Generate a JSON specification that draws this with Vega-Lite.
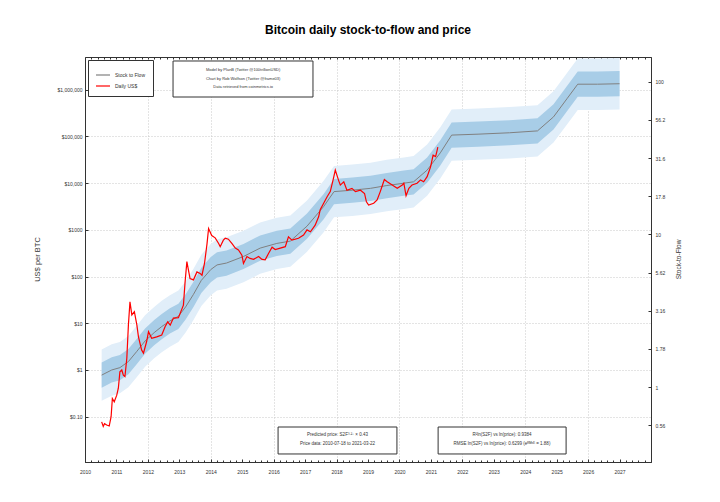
{
  "$schema": "https://vega.github.io/schema/vega-lite/v6.json",
  "width": 566,
  "height": 405,
  "autosize": {"type": "none"},
  "padding": {"left": 85, "top": 57, "right": 69, "bottom": 40},
  "background": "white",
  "title": {"text": "Bitcoin daily stock-to-flow and price", "font": "Liberation Sans", "fontSize": 12, "fontWeight": "bold", "color": "#000", "offset": 20, "anchor": "middle"},
  "config": {
    "view": {"stroke": "#333", "strokeWidth": 1},
    "font": "Liberation Sans",
    "axis": {"labelFont": "Liberation Sans", "titleFont": "Liberation Sans", "labelColor": "#333", "titleColor": "#333", "domainColor": "#333", "tickColor": "#333", "titleFontWeight": "normal", "labelOverlap": false, "labelFlush": false},
    "legend": {"labelFont": "Liberation Sans"}
  },
  "datasets": {
    "model": [
      {"year": 2010.53, "m": 0.776, "lo2": 0.2188, "lo1": 0.4169, "hi1": 1.445, "hi2": 2.754},
      {"year": 2010.85, "m": 1.0, "lo2": 0.2818, "lo1": 0.537, "hi1": 1.862, "hi2": 3.548},
      {"year": 2011.11, "m": 1.122, "lo2": 0.3162, "lo1": 0.6026, "hi1": 2.089, "hi2": 3.981},
      {"year": 2011.38, "m": 1.514, "lo2": 0.4266, "lo1": 0.8128, "hi1": 2.818, "hi2": 5.37},
      {"year": 2011.65, "m": 2.512, "lo2": 0.7079, "lo1": 1.349, "hi1": 4.677, "hi2": 8.913},
      {"year": 2011.91, "m": 4.169, "lo2": 1.175, "lo1": 2.239, "hi1": 7.762, "hi2": 14.79},
      {"year": 2012.2, "m": 6.31, "lo2": 1.778, "lo1": 3.388, "hi1": 11.75, "hi2": 22.39},
      {"year": 2012.44, "m": 8.511, "lo2": 2.399, "lo1": 4.571, "hi1": 15.85, "hi2": 30.2},
      {"year": 2012.7, "m": 11.22, "lo2": 3.162, "lo1": 6.026, "hi1": 20.89, "hi2": 39.81},
      {"year": 2012.97, "m": 14.13, "lo2": 3.981, "lo1": 7.586, "hi1": 26.3, "hi2": 50.12},
      {"year": 2013.2, "m": 22.39, "lo2": 6.31, "lo1": 12.02, "hi1": 41.69, "hi2": 79.43},
      {"year": 2013.45, "m": 41.69, "lo2": 11.75, "lo1": 22.39, "hi1": 77.62, "hi2": 147.9},
      {"year": 2013.7, "m": 83.18, "lo2": 23.44, "lo1": 44.67, "hi1": 154.9, "hi2": 295.1},
      {"year": 2014.0, "m": 141.3, "lo2": 39.81, "lo1": 75.86, "hi1": 263, "hi2": 501.2},
      {"year": 2014.2, "m": 177.8, "lo2": 50.12, "lo1": 95.5, "hi1": 331.1, "hi2": 631},
      {"year": 2014.5, "m": 195, "lo2": 54.95, "lo1": 104.7, "hi1": 363.1, "hi2": 691.8},
      {"year": 2015.04, "m": 269.2, "lo2": 75.86, "lo1": 144.5, "hi1": 501.2, "hi2": 955},
      {"year": 2015.57, "m": 407.4, "lo2": 114.8, "lo1": 218.8, "hi1": 758.6, "hi2": 1445},
      {"year": 2016.1, "m": 512.9, "lo2": 144.5, "lo1": 275.4, "hi1": 955, "hi2": 1820},
      {"year": 2016.53, "m": 575.4, "lo2": 162.2, "lo1": 309, "hi1": 1072, "hi2": 2042},
      {"year": 2017.06, "m": 1202, "lo2": 338.8, "lo1": 645.7, "hi1": 2239, "hi2": 4266},
      {"year": 2017.59, "m": 3162, "lo2": 891.3, "lo1": 1698, "hi1": 5888, "hi2": 11220},
      {"year": 2017.92, "m": 6607, "lo2": 1862, "lo1": 3548, "hi1": 12300, "hi2": 23440},
      {"year": 2018.5, "m": 7079, "lo2": 1995, "lo1": 3802, "hi1": 13180, "hi2": 25120},
      {"year": 2019.08, "m": 7762, "lo2": 2188, "lo1": 4169, "hi1": 14450, "hi2": 27540},
      {"year": 2019.6, "m": 8913, "lo2": 2512, "lo1": 4786, "hi1": 16600, "hi2": 31620},
      {"year": 2020.14, "m": 10000, "lo2": 2818, "lo1": 5370, "hi1": 18620, "hi2": 35480},
      {"year": 2020.45, "m": 10720, "lo2": 3020, "lo1": 5754, "hi1": 19950, "hi2": 38020},
      {"year": 2020.88, "m": 19050, "lo2": 5370, "lo1": 10230, "hi1": 35480, "hi2": 67610},
      {"year": 2021.3, "m": 44670, "lo2": 12590, "lo1": 23990, "hi1": 83180, "hi2": 158500},
      {"year": 2021.66, "m": 107200, "lo2": 30200, "lo1": 57540, "hi1": 199500, "hi2": 380200},
      {"year": 2022.5, "m": 112200, "lo2": 31620, "lo1": 60260, "hi1": 208900, "hi2": 398100},
      {"year": 2023.5, "m": 120200, "lo2": 33880, "lo1": 64570, "hi1": 223900, "hi2": 426600},
      {"year": 2024.39, "m": 131800, "lo2": 37150, "lo1": 70790, "hi1": 245500, "hi2": 467700},
      {"year": 2024.9, "m": 263000, "lo2": 74130, "lo1": 141300, "hi1": 489800, "hi2": 933300},
      {"year": 2025.34, "m": 660700, "lo2": 186200, "lo1": 354800, "hi1": 1230000, "hi2": 2344000},
      {"year": 2025.67, "m": 1318000, "lo2": 371500, "lo1": 707900, "hi1": 2455000, "hi2": 4677000},
      {"year": 2026.3, "m": 1318000, "lo2": 371500, "lo1": 707900, "hi1": 2455000, "hi2": 4677000},
      {"year": 2027.0, "m": 1349000, "lo2": 380200, "lo1": 724400, "hi1": 2512000, "hi2": 4786000}
    ],
    "price": [
      {"year": 2010.53, "price": 0.0776},
      {"year": 2010.58, "price": 0.0617},
      {"year": 2010.62, "price": 0.0708},
      {"year": 2010.69, "price": 0.0661},
      {"year": 2010.77, "price": 0.0631},
      {"year": 2010.83, "price": 0.1},
      {"year": 2010.87, "price": 0.2455},
      {"year": 2010.93, "price": 0.2089},
      {"year": 2011.01, "price": 0.2884},
      {"year": 2011.06, "price": 0.4074},
      {"year": 2011.11, "price": 0.912},
      {"year": 2011.17, "price": 1.0},
      {"year": 2011.22, "price": 0.776},
      {"year": 2011.27, "price": 0.724},
      {"year": 2011.33, "price": 1.778},
      {"year": 2011.38, "price": 9.12},
      {"year": 2011.43, "price": 28.8},
      {"year": 2011.49, "price": 15.1},
      {"year": 2011.57, "price": 17.8},
      {"year": 2011.65, "price": 9.12},
      {"year": 2011.7, "price": 5.13},
      {"year": 2011.8, "price": 2.69},
      {"year": 2011.86, "price": 2.29},
      {"year": 2011.96, "price": 4.07},
      {"year": 2012.02, "price": 6.61},
      {"year": 2012.12, "price": 4.79},
      {"year": 2012.28, "price": 5.13},
      {"year": 2012.44, "price": 5.62},
      {"year": 2012.55, "price": 8.51},
      {"year": 2012.63, "price": 10.7},
      {"year": 2012.71, "price": 9.12},
      {"year": 2012.81, "price": 12.9},
      {"year": 2012.97, "price": 13.2},
      {"year": 2013.13, "price": 24.5},
      {"year": 2013.18, "price": 72.4},
      {"year": 2013.24, "price": 209},
      {"year": 2013.29, "price": 138},
      {"year": 2013.34, "price": 91.2},
      {"year": 2013.45, "price": 85.1},
      {"year": 2013.56, "price": 126},
      {"year": 2013.66, "price": 117},
      {"year": 2013.72, "price": 107},
      {"year": 2013.8, "price": 191},
      {"year": 2013.88, "price": 501},
      {"year": 2013.93, "price": 1072},
      {"year": 2014.03, "price": 759},
      {"year": 2014.14, "price": 676},
      {"year": 2014.25, "price": 513},
      {"year": 2014.3, "price": 437},
      {"year": 2014.4, "price": 603},
      {"year": 2014.46, "price": 661},
      {"year": 2014.56, "price": 631},
      {"year": 2014.67, "price": 513},
      {"year": 2014.78, "price": 407},
      {"year": 2014.88, "price": 372},
      {"year": 2014.99, "price": 288},
      {"year": 2015.04, "price": 191},
      {"year": 2015.15, "price": 269},
      {"year": 2015.25, "price": 245},
      {"year": 2015.36, "price": 234},
      {"year": 2015.52, "price": 269},
      {"year": 2015.63, "price": 234},
      {"year": 2015.73, "price": 229},
      {"year": 2015.84, "price": 316},
      {"year": 2015.95, "price": 427},
      {"year": 2016.05, "price": 380},
      {"year": 2016.21, "price": 407},
      {"year": 2016.37, "price": 437},
      {"year": 2016.47, "price": 708},
      {"year": 2016.58, "price": 603},
      {"year": 2016.79, "price": 661},
      {"year": 2016.95, "price": 776},
      {"year": 2017.06, "price": 1000},
      {"year": 2017.17, "price": 912},
      {"year": 2017.32, "price": 1259},
      {"year": 2017.43, "price": 1905},
      {"year": 2017.48, "price": 2692},
      {"year": 2017.59, "price": 3715},
      {"year": 2017.7, "price": 5129},
      {"year": 2017.8, "price": 6607},
      {"year": 2017.89, "price": 11750},
      {"year": 2017.96, "price": 19050},
      {"year": 2018.07, "price": 11220},
      {"year": 2018.12, "price": 9120},
      {"year": 2018.23, "price": 10720},
      {"year": 2018.33, "price": 7079},
      {"year": 2018.49, "price": 7762},
      {"year": 2018.6, "price": 6607},
      {"year": 2018.76, "price": 7079},
      {"year": 2018.89, "price": 6026},
      {"year": 2018.95, "price": 3981},
      {"year": 2019.02, "price": 3388},
      {"year": 2019.18, "price": 3715},
      {"year": 2019.29, "price": 4365},
      {"year": 2019.39, "price": 6607},
      {"year": 2019.48, "price": 10000},
      {"year": 2019.52, "price": 12020},
      {"year": 2019.61, "price": 10720},
      {"year": 2019.77, "price": 9120},
      {"year": 2019.93, "price": 7762},
      {"year": 2020.09, "price": 9120},
      {"year": 2020.14, "price": 10000},
      {"year": 2020.21, "price": 5370},
      {"year": 2020.3, "price": 7762},
      {"year": 2020.4, "price": 9120},
      {"year": 2020.56, "price": 10000},
      {"year": 2020.67, "price": 11750},
      {"year": 2020.77, "price": 10720},
      {"year": 2020.88, "price": 13800},
      {"year": 2020.99, "price": 22390},
      {"year": 2021.07, "price": 39810},
      {"year": 2021.15, "price": 37150},
      {"year": 2021.2, "price": 51290},
      {"year": 2021.22, "price": 58880}
    ]
  },
  "layer": [
    {
      "layer": [
        {
          "data": {"name": "model"},
          "mark": {"type": "area", "color": "#e1eef9", "clip": true},
          "encoding": {
            "x": {"field": "year", "type": "quantitative", "scale": {"domain": [2010, 2028], "nice": false, "zero": false},
              "axis": {"values": [2010, 2011, 2012, 2013, 2014, 2015, 2016, 2017, 2018, 2019, 2020, 2021, 2022, 2023, 2024, 2025, 2026, 2027], "labels": false, "ticks": false, "domain": false, "grid": true, "gridDash": [1, 2], "gridColor": "#c8c8c8", "title": null}},
            "y": {"field": "lo2", "type": "quantitative", "scale": {"type": "log", "domain": [0.0107, 5040000], "nice": false},
              "axis": {"values": [0.1, 1, 10, 100, 1000, 10000, 100000, 1000000], "labelExpr": "datum.value < 1 ? '$0.10' : (datum.value == 1000 ? '$1000' : '$' + format(datum.value, ','))", "labelFontSize": 5, "labelOverlap": false, "tickSize": -3, "labelPadding": 6, "grid": true, "gridDash": [1, 2], "gridColor": "#c8c8c8", "title": "US$ per BTC", "titleFontSize": 7.5, "titleAngle": -90, "titleX": -48, "titleY": 202, "titleAlign": "center", "titleBaseline": "middle"}},
            "y2": {"field": "hi2"}
          }
        },
        {
          "data": {"name": "model"},
          "mark": {"type": "area", "color": "#a8cde7", "clip": true},
          "encoding": {
            "x": {"field": "year", "type": "quantitative"},
            "y": {"field": "lo1", "type": "quantitative"},
            "y2": {"field": "hi1"}
          }
        },
        {
          "data": {"name": "model"},
          "mark": {"type": "line", "strokeWidth": 1, "clip": true},
          "encoding": {
            "x": {"field": "year", "type": "quantitative"},
            "y": {"field": "m", "type": "quantitative"},
            "color": {"datum": "Stock to Flow", "type": "nominal",
              "scale": {"domain": ["Stock to Flow", "Daily US$"], "range": ["#808080", "#ff0000"]},
              "legend": {"title": null, "orient": "top-left", "offset": 3, "padding": 7, "strokeColor": "#333", "fillColor": "white", "labelFontSize": 5, "labelColor": "#333", "symbolType": "stroke", "symbolSize": 196, "symbolStrokeWidth": 1.2, "rowPadding": -6, "labelOffset": 4}}
          }
        },
        {
          "data": {"name": "price"},
          "mark": {"type": "line", "strokeWidth": 1.2, "clip": true},
          "encoding": {
            "x": {"field": "year", "type": "quantitative"},
            "y": {"field": "price", "type": "quantitative"},
            "color": {"datum": "Daily US$", "type": "nominal"}
          }
        },
        {
          "data": {"values": [{}]},
          "mark": {"type": "rect", "fill": "white", "stroke": "#333", "strokeWidth": 1},
          "encoding": {
            "x": {"datum": 2012.8, "type": "quantitative"},
            "x2": {"datum": 2017.25},
            "y": {"datum": 4140000, "type": "quantitative"},
            "y2": {"datum": 701000}
          }
        },
        {
          "data": {"values": [{}]},
          "mark": {"type": "text", "fontSize": 4, "color": "#333", "align": "center", "baseline": "middle", "lineHeight": 8.8,
            "text": ["Model by PlanB (Twitter @100trillionUSD)", "Chart by Rob Wolfson (Twitter @frame03)", "Data retrieved from coinmetrics.io"]},
          "encoding": {
            "x": {"datum": 2015.03, "type": "quantitative"},
            "y": {"datum": 2690000, "type": "quantitative"}
          }
        },
        {
          "data": {"values": [{}]},
          "mark": {"type": "rect", "fill": "white", "stroke": "#333", "strokeWidth": 1},
          "encoding": {
            "x": {"datum": 2016.14, "type": "quantitative"},
            "x2": {"datum": 2019.92},
            "y": {"datum": 0.0601, "type": "quantitative"},
            "y2": {"datum": 0.01589}
          }
        },
        {
          "data": {"values": [{}]},
          "mark": {"type": "text", "fontSize": 4.5, "color": "#333", "align": "center", "baseline": "middle", "lineHeight": 9,
            "text": ["Predicted price: S2F³·²⁷ × 0.43", "Price data: 2010-07-18 to 2021-03-22"]},
          "encoding": {
            "x": {"datum": 2018.03, "type": "quantitative"},
            "y": {"datum": 0.04055, "type": "quantitative"}
          }
        },
        {
          "data": {"values": [{}]},
          "mark": {"type": "rect", "fill": "white", "stroke": "#333", "strokeWidth": 1},
          "encoding": {
            "x": {"datum": 2021.23, "type": "quantitative"},
            "x2": {"datum": 2025.3},
            "y": {"datum": 0.0601, "type": "quantitative"},
            "y2": {"datum": 0.01589}
          }
        },
        {
          "data": {"values": [{}]},
          "mark": {"type": "text", "fontSize": 4.5, "color": "#333", "align": "center", "baseline": "middle", "lineHeight": 9,
            "text": ["R²ln(S2F) vs ln(price): 0.9384", "RMSE ln(S2F) vs ln(price): 0.6299 (eᴿᴹˢᴱ = 1.88)"]},
          "encoding": {
            "x": {"datum": 2023.26, "type": "quantitative"},
            "y": {"datum": 0.04055, "type": "quantitative"}
          }
        }
      ]
    },
    {
      "data": {"values": [{}]},
      "mark": {"type": "rule", "opacity": 0},
      "encoding": {
        "y": {"datum": 1, "type": "quantitative", "scale": {"type": "log", "domain": [0.3233, 145.1], "nice": false},
          "axis": {"orient": "right", "values": [0.5623, 1, 1.778, 3.162, 5.623, 10, 17.78, 31.62, 56.23, 100], "labelExpr": "format(datum.value, datum.value < 1 ? '.2~r' : '.3~r')", "labelFontSize": 5, "labelOverlap": false, "tickSize": -3, "labelPadding": 7, "grid": false, "title": "Stock-to-Flow", "titleFontSize": 6.5, "titleAngle": -90, "titleX": 27, "titleY": 202, "titleAlign": "center", "titleBaseline": "middle"}}
      }
    },
    {
      "data": {"name": "model"},
      "mark": {"type": "point", "opacity": 0},
      "encoding": {
        "x": {"field": "year", "type": "quantitative", "scale": {"domain": [2010, 2028], "nice": false, "zero": false},
          "axis": {"orient": "bottom", "values": [2010, 2011, 2012, 2013, 2014, 2015, 2016, 2017, 2018, 2019, 2020, 2021, 2022, 2023, 2024, 2025, 2026, 2027], "labelExpr": "toString(datum.value)", "labelFontSize": 5, "labelOverlap": false, "labelSeparation": 0, "labelBound": false, "labelFlush": false, "tickSize": -3, "labelPadding": 10, "grid": false, "title": null}},
        "y": {"field": "m", "type": "quantitative", "axis": null}
      }
    },
    {
      "data": {"name": "model"},
      "mark": {"type": "point", "opacity": 0},
      "encoding": {
        "x": {"field": "year", "type": "quantitative", "scale": {"domain": [2010, 2028], "nice": false, "zero": false},
          "axis": {"orient": "bottom", "values": [2010.2, 2010.4, 2010.6, 2010.8, 2011.2, 2011.4, 2011.6, 2011.8, 2012.2, 2012.4, 2012.6, 2012.8, 2013.2, 2013.4, 2013.6, 2013.8, 2014.2, 2014.4, 2014.6, 2014.8, 2015.2, 2015.4, 2015.6, 2015.8, 2016.2, 2016.4, 2016.6, 2016.8, 2017.2, 2017.4, 2017.6, 2017.8, 2018.2, 2018.4, 2018.6, 2018.8, 2019.2, 2019.4, 2019.6, 2019.8, 2020.2, 2020.4, 2020.6, 2020.8, 2021.2, 2021.4, 2021.6, 2021.8, 2022.2, 2022.4, 2022.6, 2022.8, 2023.2, 2023.4, 2023.6, 2023.8, 2024.2, 2024.4, 2024.6, 2024.8, 2025.2, 2025.4, 2025.6, 2025.8, 2026.2, 2026.4, 2026.6, 2026.8, 2027.2, 2027.4, 2027.6, 2027.8], "labels": false, "grid": false, "domain": false, "tickSize": -2, "title": null}},
        "y": {"field": "m", "type": "quantitative", "axis": null}
      }
    },
    {
      "data": {"name": "model"},
      "mark": {"type": "point", "opacity": 0},
      "encoding": {
        "x": {"field": "year", "type": "quantitative", "scale": {"domain": [2010, 2028], "nice": false, "zero": false},
          "axis": {"orient": "top", "values": [2010, 2010.2, 2010.4, 2010.6, 2010.8, 2011, 2011.2, 2011.4, 2011.6, 2011.8, 2012, 2012.2, 2012.4, 2012.6, 2012.8, 2013, 2013.2, 2013.4, 2013.6, 2013.8, 2014, 2014.2, 2014.4, 2014.6, 2014.8, 2015, 2015.2, 2015.4, 2015.6, 2015.8, 2016, 2016.2, 2016.4, 2016.6, 2016.8, 2017, 2017.2, 2017.4, 2017.6, 2017.8, 2018, 2018.2, 2018.4, 2018.6, 2018.8, 2019, 2019.2, 2019.4, 2019.6, 2019.8, 2020, 2020.2, 2020.4, 2020.6, 2020.8, 2021, 2021.2, 2021.4, 2021.6, 2021.8, 2022, 2022.2, 2022.4, 2022.6, 2022.8, 2023, 2023.2, 2023.4, 2023.6, 2023.8, 2024, 2024.2, 2024.4, 2024.6, 2024.8, 2025, 2025.2, 2025.4, 2025.6, 2025.8, 2026, 2026.2, 2026.4, 2026.6, 2026.8, 2027, 2027.2, 2027.4, 2027.6, 2027.8], "labels": false, "grid": false, "domain": false, "tickSize": -2, "title": null}},
        "y": {"field": "m", "type": "quantitative", "axis": null}
      }
    }
  ],
  "resolve": {"scale": {"y": "independent"}, "axis": {"x": "independent"}}
}
